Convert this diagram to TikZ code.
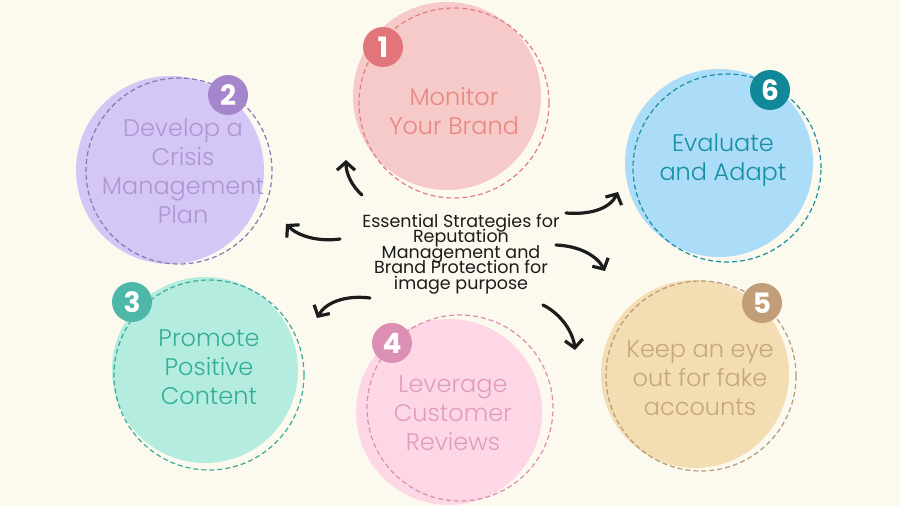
\documentclass[tikz,border=0pt]{standalone}
\usepackage{fontspec}
\setmainfont{Poppins}[UprightFont=* Light, BoldFont=* Bold]
\newfontfamily\titlefont{Poppins}
\newcommand\tightlines{\lineskiplimit=-20pt\lineskip=0pt\relax}
\usetikzlibrary{arrows.meta}
\definecolor{bgcream}{HTML}{FCF9EF}
\definecolor{ink}{HTML}{1C1C1C}
\definecolor{rosefill}{HTML}{F7CACA}
\definecolor{roseline}{HTML}{E07F80}
\definecolor{rosetag}{HTML}{E0767A}
\definecolor{rosetext}{HTML}{E8877F}
\definecolor{lilacfill}{HTML}{D4C7F6}
\definecolor{lilacline}{HTML}{8E75B5}
\definecolor{lilactag}{HTML}{A585CB}
\definecolor{lilactext}{HTML}{AE96D4}
\definecolor{mintfill}{HTML}{B4EDDF}
\definecolor{mintline}{HTML}{3BAA98}
\definecolor{minttag}{HTML}{4DB8A8}
\definecolor{minttext}{HTML}{35AE95}
\definecolor{blushfill}{HTML}{FDD7E6}
\definecolor{blushline}{HTML}{DD8FAE}
\definecolor{blushtag}{HTML}{DB8FB2}
\definecolor{blushtext}{HTML}{E29CBB}
\definecolor{sandfill}{HTML}{F3DEB3}
\definecolor{sandline}{HTML}{B89A7A}
\definecolor{sandtag}{HTML}{C19E77}
\definecolor{sandtext}{HTML}{C7A57E}
\definecolor{skyfill}{HTML}{ABDCF8}
\definecolor{skyline}{HTML}{1B8FA0}
\definecolor{skytag}{HTML}{11879A}
\definecolor{skytext}{HTML}{168FA5}

\begin{document}
\begin{tikzpicture}[x=1pt, y=-1pt,
    blob/.style={circle, minimum size=#1, inner sep=0pt},
    ring/.style={dash pattern=on 5pt off 3pt, line width=1.2pt},
    badge/.style={circle, minimum size=40pt, inner sep=0pt, text=white, font=\titlefont\fontsize{28}{28}\selectfont\bfseries},
    tagtext/.style={align=center, font=\fontsize{24}{29}\selectfont},
    swoosh/.style={line width=3.2pt, line cap=round, ink, -{Straight Barb[length=8pt, width=18pt, line width=3.2pt]}}]
    \fill[bgcream] (0,0) rectangle (900,506);

    % 1 monitor
    \node[blob=188pt, fill=rosefill] (monitor) at (447,96) {};
    \draw[ring, roseline] (454,103) circle[radius=95pt];
    \node[badge, fill=rosetag] (one) at (383,47) {1};
    \node[tagtext, text=rosetext] (monitor text) at (454,111) {Monitor\\Your Brand};

    % 2 crisis plan
    \node[blob=188pt, fill=lilacfill] (crisis) at (170,170) {};
    \draw[ring, lilacline] (179,171) circle[radius=93pt];
    \node[badge, fill=lilactag] (two) at (228,95) {2};
    \node[tagtext, text=lilactext] (crisis text) at (183,171) {Develop a\\Crisis\\Management\\Plan};

    % 3 positive content
    \node[blob=186pt, fill=mintfill] (promote) at (205,370) {};
    \draw[ring, mintline] (209,375) circle[radius=95pt];
    \node[badge, fill=minttag] (three) at (132,302) {3};
    \node[tagtext, text=minttext] (promote text) at (209,367) {Promote\\Positive\\Content};

    % 4 reviews
    \node[blob=186pt, fill=blushfill] (reviews) at (449,412) {};
    \draw[ring, blushline] (460,408) circle[radius=93pt];
    \node[badge, fill=blushtag] (four) at (392,343) {4};
    \node[tagtext, text=blushtext] (reviews text) at (453,413) {Leverage\\Customer\\Reviews};

    % 5 fake accounts
    \node[blob=188pt, fill=sandfill] (fake) at (695,374) {};
    \draw[ring, sandline] (701,376) circle[radius=95pt];
    \node[badge, fill=sandtag] (five) at (762,303) {5};
    \node[tagtext, text=sandtext] (fake text) at (700,378) {Keep an eye\\out for fake\\accounts};

    % 6 evaluate
    \node[blob=188pt, fill=skyfill] (evaluate) at (719,163) {};
    \draw[ring, skyline] (727,168) circle[radius=94pt];
    \node[badge, fill=skytag] (six) at (770,90) {6};
    \node[tagtext, text=skytext] (evaluate text) at (723,160) {Evaluate\\and Adapt};

    % centre
    \node[align=center, text=ink, font=\titlefont\fontsize{17.5}{15.6}\selectfont\tightlines] (core) at (461,254)
        {Essential Strategies for\\Reputation\\Management and\\Brand Protection for\\image purpose};

    \coordinate (monitor tail) at (362,195);  \coordinate (monitor tip) at (346,160);
    \coordinate (crisis tail) at (340,239);   \coordinate (crisis tip) at (286,224);
    \coordinate (promote tail) at (370,298);  \coordinate (promote tip) at (317,318);
    \coordinate (fake tail) at (543,305);     \coordinate (fake tip) at (575,350);
    \coordinate (sand tail) at (556,245);     \coordinate (sand tip) at (605,271);
    \coordinate (evaluate tail) at (566,213); \coordinate (evaluate tip) at (618,192);

    \draw[swoosh] (monitor tail) .. controls (352,186) and (346,174) .. (monitor tip);
    \draw[swoosh] (crisis tail) .. controls (318,242) and (298,236) .. (crisis tip);
    \draw[swoosh] (promote tail) .. controls (346,295) and (326,302) .. (promote tip);
    \draw[swoosh] (fake tail) .. controls (561,314) and (573,332) .. (fake tip);
    \draw[swoosh] (sand tail) .. controls (580,246) and (597,256) .. (sand tip);
    \draw[swoosh] (evaluate tail) .. controls (592,215) and (610,208) .. (evaluate tip);
\end{tikzpicture}
\end{document}
